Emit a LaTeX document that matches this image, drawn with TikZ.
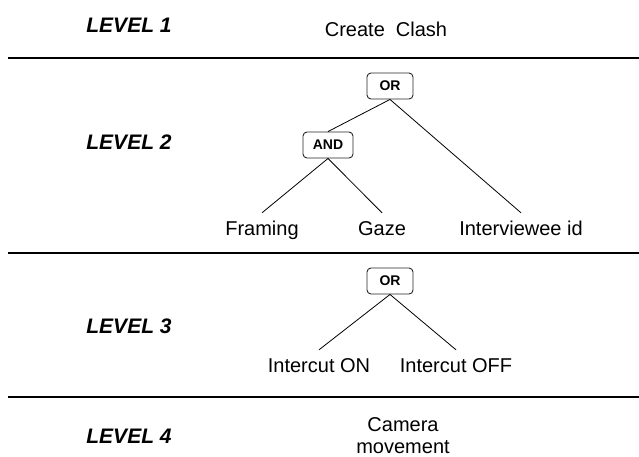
\documentclass[tikz,border=0pt]{standalone}
\usepackage{fontspec}
\setmainfont{Liberation Sans}
\begin{document}
\begin{tikzpicture}[x=1pt,y=-1pt,
  lvl/.style={anchor=base,font=\fontsize{21}{25}\selectfont\bfseries\itshape,inner sep=0pt},
  txt/.style={anchor=base,font=\fontsize{20}{24}\selectfont,inner sep=0pt},
  gate/.style={draw=black!85,line width=0.9pt,rounded corners=4pt,minimum width=46pt,minimum height=26pt,inner sep=0pt,font=\fontsize{14}{16}\selectfont\bfseries},
  leaf/.style={anchor=base,font=\fontsize{20}{24}\selectfont,text height=15pt,text depth=5pt,inner xsep=0pt,inner ysep=7pt},
  sepline/.style={line width=1.3pt,black},
  edge/.style={line width=0.8pt,black}]
\useasboundingbox (0,0) rectangle (639,456);

% separators
\coordinate (s1a) at (8,58);  \coordinate (s1b) at (639,58);
\coordinate (s2a) at (8,253); \coordinate (s2b) at (639,253);
\coordinate (s3a) at (8,397); \coordinate (s3b) at (639,397);
\draw[sepline] (s1a) -- (s1b);
\draw[sepline] (s2a) -- (s2b);
\draw[sepline] (s3a) -- (s3b);

% level labels
\node[lvl] (l1) at (129,32) {LEVEL 1};
\node[lvl] (l2) at (129,149) {LEVEL 2};
\node[lvl] (l3) at (129,333) {LEVEL 3};
\node[lvl] (l4) at (129,443) {LEVEL 4};

% level 1
\node[txt] (clash) at (386,36) {Create\ \ Clash};

% level 2
\node[gate] (or1) at (390,86) {OR};
\node[gate,minimum width=50pt] (and) at (328,145) {AND};
\node[leaf] (framing) at (262,235) {Framing};
\node[leaf] (gaze) at (382,235) {Gaze};
\node[leaf] (interv) at (521,235) {Interviewee id};
\draw[edge] (or1.south) -- (and.north);
\draw[edge] (or1.south) -- (interv.north);
\draw[edge] (and.south) -- (framing.north);
\draw[edge] (and.south) -- (gaze.north);

% level 3
\node[gate] (or2) at (390,281) {OR};
\node[leaf] (ion) at (319,372) {Intercut ON};
\node[leaf] (ioff) at (456,372) {Intercut OFF};
\draw[edge] (or2.south) -- (ion.north);
\draw[edge] (or2.south) -- (ioff.north);

% level 4
\node[txt,align=center,font=\fontsize{20}{22}\selectfont] (cam) at (403,453) {Camera\\movement};
\end{tikzpicture}
\end{document}
